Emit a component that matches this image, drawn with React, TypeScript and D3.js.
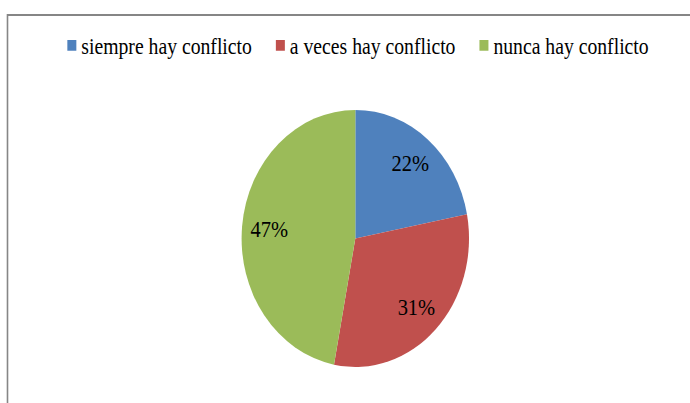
import { useEffect, useRef } from "react";
import * as d3 from "d3";

const categories = ["siempre hay conflicto", "a veces hay conflicto", "nunca hay conflicto"];
const values = [22, 31, 47];
const sliceColors = ["#4F81BD", "#C0504D", "#9BBB59"];

const serif = '"Liberation Serif", Tinos, "Times New Roman", Times, "DejaVu Serif", serif';

export default function App() {
  const svgRef = useRef<SVGSVGElement>(null);

  useEffect(() => {
    if (!svgRef.current) return;
    const root = d3.select(svgRef.current);
    root.selectAll("*").remove();

    const width = 690;
    const height = 403;
    // the original picture is stretched vertically a little
    const sy = 1.13;

    // chart frame (only top and left edges are visible)
    root
      .append("line")
      .attr("x1", 7)
      .attr("x2", width)
      .attr("y1", 15)
      .attr("y2", 15)
      .attr("stroke", "#868686")
      .attr("stroke-width", 2);
    root
      .append("line")
      .attr("x1", 7.5)
      .attr("x2", 7.5)
      .attr("y1", 14)
      .attr("y2", height)
      .attr("stroke", "#868686")
      .attr("stroke-width", 1.6);

    const g = root.append("g").attr("transform", `scale(1,${sy})`);

    const data = categories.map((c, i) => ({ category: c, value: values[i], color: sliceColors[i] }));
    type D = (typeof data)[number];

    const cx = 355.3;
    const cy = 211;
    const radius = 113.7;

    const pie = d3
      .pie<D>()
      .value((d) => d.value)
      .sort(null);

    const arc = d3.arc<d3.PieArcDatum<D>>().innerRadius(0).outerRadius(radius);
    const labelArc = d3
      .arc<d3.PieArcDatum<D>>()
      .innerRadius(radius * 0.76)
      .outerRadius(radius * 0.76);

    const pieG = g.append("g").attr("transform", `translate(${cx},${cy})`);

    pieG
      .selectAll("path")
      .data(pie(data))
      .enter()
      .append("path")
      .attr("d", arc)
      .attr("fill", (d) => d.data.color);

    pieG
      .selectAll("text")
      .data(pie(data))
      .enter()
      .append("text")
      .attr("transform", (d) => `translate(${labelArc.centroid(d)})`)
      .attr("text-anchor", "middle")
      .attr("dy", "0.34em")
      .style("font-family", serif)
      .attr("font-size", "20.5px")
      .attr("fill", "#000")
      .text((d) => `${d.data.value}%`);

    // legend
    const legend = g.append("g");
    const items = legend
      .selectAll("g")
      .data(data)
      .enter()
      .append("g");

    items
      .append("rect")
      .attr("width", 9)
      .attr("height", 9.5)
      .attr("y", 35.4)
      .attr("fill", (d) => d.color);

    const texts = items
      .append("text")
      .attr("x", 14)
      .attr("y", 48)
      .style("font-family", serif)
      .attr("font-size", "19.7px")
      .attr("fill", "#000")
      .text((d) => d.category);

    const widths: number[] = [];
    texts.each(function () {
      widths.push((this as SVGTextElement).getComputedTextLength());
    });
    const gap = 24;
    const itemW = widths.map((w) => 14 + w);
    const total = d3.sum(itemW) + gap * (itemW.length - 1);
    let x = 358 - total / 2;
    items.attr("transform", (_d, i) => {
      const t = `translate(${x},0)`;
      x += itemW[i] + gap;
      return t;
    });
  }, []);

  return (
    <div style={{ position: "absolute", left: 0, top: 0, background: "#fff" }}>
      <svg ref={svgRef} width={690} height={403} style={{ display: "block" }}></svg>
    </div>
  );
}
